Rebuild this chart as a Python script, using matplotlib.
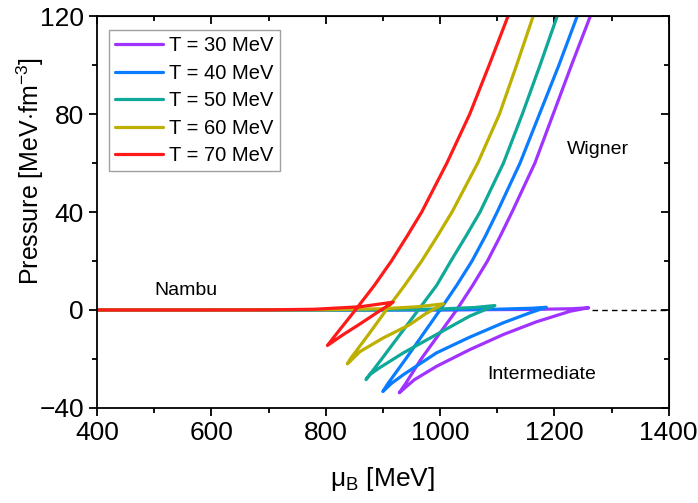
"""Pressure vs baryon chemical potential: Nambu / intermediate / Wigner branches."""

import matplotlib

matplotlib.use("Agg")
import matplotlib.pyplot as plt
from matplotlib.ticker import MultipleLocator

plt.rcParams["font.family"] = ["Liberation Sans", "DejaVu Sans"]
plt.rcParams["mathtext.fontset"] = "custom"
plt.rcParams["mathtext.rm"] = "Liberation Sans"
plt.rcParams["mathtext.it"] = "Liberation Sans:italic"

# Each curve runs Nambu branch -> upper cusp -> intermediate branch -> lower cusp -> Wigner branch.
temps = [30, 40, 50, 60, 70]
colors = ["#A033FF", "#0A7CFF", "#10A898", "#BDB000", "#FF1A1A"]

mu_T30 = [400, 700, 1000, 1150, 1230, 1260,
          1228, 1169, 1111, 1052, 994, 955, 928.7,
          940, 967, 998, 1029, 1057, 1083, 1105, 1126, 1166, 1198, 1230, 1263]
p_T30 = [0, 0, 0.05, 0.2, 0.5, 0.9,
         -0.5, -4.8, -10, -16.2, -23, -28.5, -33.8,
         -30, -20, -10, 0, 10, 20, 30, 40, 60, 80, 100, 120]

mu_T40 = [400, 700, 1000, 1100, 1160, 1186,
          1158, 1111, 1052, 994, 936, 915, 900,
          909, 940, 970, 1000, 1029, 1056, 1079, 1100, 1140, 1174, 1208, 1240]
p_T40 = [0, 0, 0.05, 0.3, 0.7, 1.1,
         -1.1, -5.2, -11.1, -17.5, -26.4, -30, -33.3,
         -30, -20, -10, 0, 10, 20, 30, 40, 60, 80, 100, 120]

mu_T50 = [400, 700, 900, 1000, 1060, 1096,
          1052, 994, 936, 895, 877, 870.5,
          898, 930, 962, 994, 1019, 1045, 1070, 1111, 1144, 1175, 1205]
p_T50 = [0, 0, 0.05, 0.4, 1.0, 1.8,
         -2.5, -10, -17.5, -23.5, -26.4, -28.4,
         -20, -10, 0, 10, 20, 30, 40, 60, 80, 100, 120]

mu_T60 = [400, 650, 800, 900, 960, 1006,
          975, 947, 900, 860, 838,
          843, 875, 906, 938, 968, 995, 1021, 1066, 1104, 1134, 1163]
p_T60 = [0, 0, 0.1, 0.5, 1.3, 2.5,
         -1.5, -6, -11.5, -17, -22,
         -20, -10, 0, 10, 20, 30, 40, 60, 80, 100, 120]

mu_T70 = [400, 600, 700, 780, 860, 918,
          889, 860, 831, 803,
          818, 852, 885, 915, 942, 968, 1012, 1052, 1086, 1119]
p_T70 = [0, 0, 0.05, 0.3, 1.3, 3.2,
         -1.2, -5.7, -10, -14.5,
         -10, 0, 10, 20, 30, 40, 60, 80, 100, 120]

mu_curves = [mu_T30, mu_T40, mu_T50, mu_T60, mu_T70]
p_curves = [p_T30, p_T40, p_T50, p_T60, p_T70]

dash_mu = [1265, 1400]
dash_p = [0, 0]

fig = plt.figure(figsize=(6.98, 5.03), dpi=100)
ax = fig.add_axes([0.139, 0.189, 0.819, 0.779])

for T, c, mu, p in zip(temps, colors, mu_curves, p_curves):
    ax.plot(mu, p, color=c, lw=2.3, label=f"T = {T} MeV",
            solid_capstyle="round", solid_joinstyle="round")

ax.plot(dash_mu, dash_p, color="black", lw=1.0, ls=(0, (4, 3)))

ax.text(555, 8, "Nambu", fontsize=14, ha="center", va="center")
ax.text(1277, 65.5, "Wigner", fontsize=14, ha="center", va="center")
ax.text(1177, -26.5, "Intermediate", fontsize=14, ha="center", va="center")

ax.set_xlim(400, 1400)
ax.set_ylim(-40, 120)
ax.xaxis.set_major_locator(MultipleLocator(200))
ax.xaxis.set_minor_locator(MultipleLocator(100))
ax.yaxis.set_minor_locator(MultipleLocator(20))
ax.set_yticks([-40, 0, 40, 80, 120])
ax.set_yticklabels(["\u221240", "0", "40", "80", "120"])

ax.tick_params(which="both", direction="out", top=False, right=False,
               labelsize=19, width=1.3)
ax.tick_params(which="major", length=6)
ax.tick_params(which="minor", length=3.5)
for s in ax.spines.values():
    s.set_linewidth(1.3)

# inward ticks on the top and right frame
secx = ax.secondary_xaxis("top")
secx.xaxis.set_major_locator(MultipleLocator(200))
secx.xaxis.set_minor_locator(MultipleLocator(100))
secx.tick_params(which="both", direction="in", labeltop=False, width=1.3)
secx.tick_params(which="major", length=6)
secx.tick_params(which="minor", length=3.5)
secy = ax.secondary_yaxis("right")
secy.yaxis.set_major_locator(MultipleLocator(40))
secy.yaxis.set_minor_locator(MultipleLocator(20))
secy.tick_params(which="both", direction="in", labelright=False, width=1.3)
secy.tick_params(which="major", length=6)
secy.tick_params(which="minor", length=3.5)

ax.set_xlabel(r"$\mathrm{\mu_B}$ [MeV]", fontsize=19, labelpad=14)
ax.set_ylabel(r"Pressure [MeV$\cdot$fm$^{-3}$]", fontsize=18, va="center")
ax.yaxis.set_label_coords(-0.117, 0.605)

leg = ax.legend(loc="upper left", bbox_to_anchor=(0.021, 0.964), fontsize=14.5,
                frameon=True, fancybox=False, edgecolor="#888888",
                handlelength=2.4, handletextpad=0.3, borderpad=0.3,
                labelspacing=0.42, borderaxespad=0.0)
leg.get_frame().set_linewidth(1.0)

fig.savefig("out.png", dpi=100)
